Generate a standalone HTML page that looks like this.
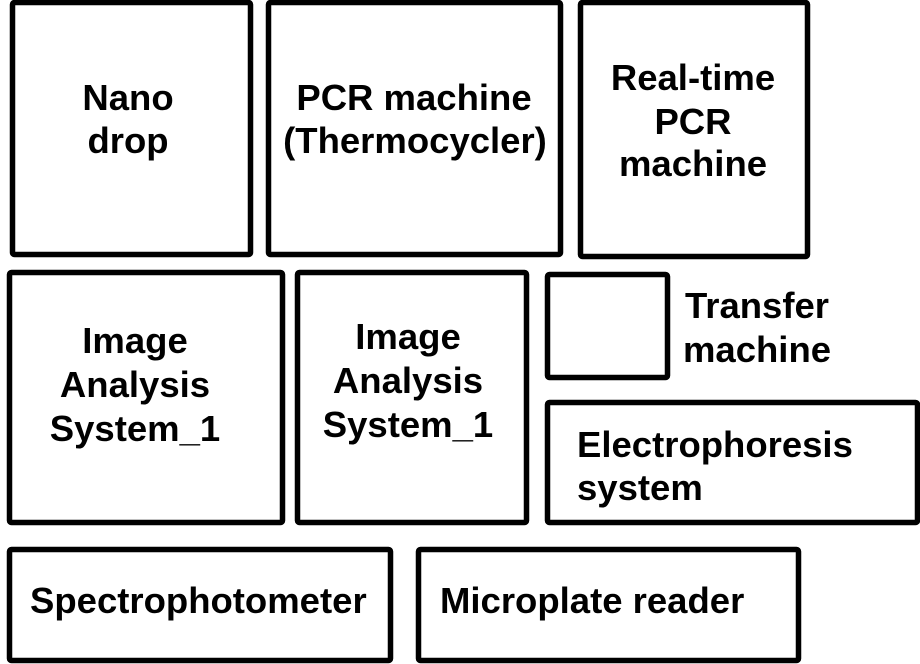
<!DOCTYPE html>
<html><head><meta charset="utf-8"><style>
html,body{margin:0;padding:0;background:#fff;width:920px;height:664px;overflow:hidden}
svg{display:block}
text{font-family:"Liberation Sans",Arial,sans-serif;font-weight:bold;font-size:36.5px;fill:#000}
rect{fill:#fff;stroke:#000;stroke-width:5.5}
</style></head><body>
<svg width="920" height="664" viewBox="0 0 920 664" xmlns="http://www.w3.org/2000/svg">
<rect x="12.5" y="2.5" width="238" height="252" rx="2"/>
<rect x="268.5" y="2.5" width="292" height="252" rx="2"/>
<rect x="580.5" y="2.5" width="227" height="254" rx="2"/>
<rect x="9.5" y="272.5" width="273" height="250" rx="2"/>
<rect x="297.5" y="272.5" width="229" height="250" rx="2"/>
<rect x="547.5" y="274.5" width="120" height="103" rx="2"/>
<rect x="547.5" y="402.5" width="370" height="120" rx="2"/>
<rect x="9.5" y="549.5" width="381" height="111" rx="2"/>
<rect x="418.5" y="549.5" width="380" height="111" rx="2"/>

<text x="128" y="110" text-anchor="middle">Nano</text>
<text x="128" y="153" text-anchor="middle">drop</text>

<text x="414" y="110" text-anchor="middle">PCR machine</text>
<text x="415" y="153" text-anchor="middle">(Thermocycler)</text>

<text x="693" y="90" text-anchor="middle">Real-time</text>
<text x="693" y="134" text-anchor="middle">PCR</text>
<text x="693" y="176" text-anchor="middle">machine</text>

<text x="135" y="353" text-anchor="middle">Image</text>
<text x="135" y="397" text-anchor="middle">Analysis</text>
<text x="135" y="441" text-anchor="middle">System_1</text>

<text x="408" y="349" text-anchor="middle">Image</text>
<text x="408" y="393" text-anchor="middle">Analysis</text>
<text x="408" y="437" text-anchor="middle">System_1</text>

<text x="757" y="318" text-anchor="middle">Transfer</text>
<text x="757" y="362" text-anchor="middle">machine</text>

<text x="577" y="457">Electrophoresis</text>
<text x="577" y="500">system</text>

<text x="30" y="613">Spectrophotometer</text>
<text x="440" y="613">Microplate reader</text>
</svg>
</body></html>
